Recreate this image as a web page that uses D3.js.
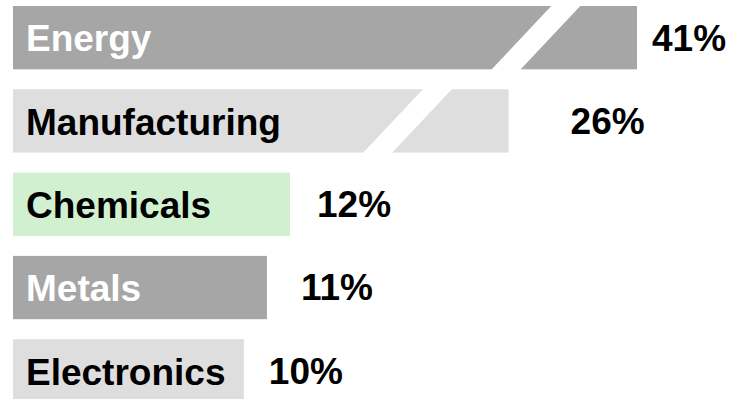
<!DOCTYPE html>
<html>
<head>
<meta charset="utf-8">
<script src="https://cdn.jsdelivr.net/npm/d3@7"></script>
<style>
  body { margin: 0; background: #fff; }
  text { font-family: "Liberation Sans", Arial, sans-serif; font-weight: bold; }
</style>
</head>
<body>
<svg width="740" height="399"></svg>
<script>
// data
var sectors = ["Energy", "Manufacturing", "Chemicals", "Metals", "Electronics"];
var shares = [41, 26, 12, 11, 10];
var broken = [true, true, false, false, false];

// styles
var barFill = ["#a6a6a6", "#dedede", "#d1f0d0", "#a6a6a6", "#dedede"];
var nameFill = ["#fff", "#000", "#000", "#fff", "#000"];
var labelPad = [15, 62, 27, 34, 25];

var svg = d3.select("svg"),
    width = +svg.attr("width"),
    height = +svg.attr("height");

// broken x axis: linear up to the break, compressed after it
var x = d3.scaleLinear().domain([0, 18.8, 41]).range([13, 447, 637]);
var y = d3.scaleBand().domain(sectors).range([6, 402.5]).paddingInner(0.24).paddingOuter(0);

var rows = sectors.map(function(s, i){
    return {name: s, val: shares[i], broken: broken[i], i: i};
});

var g = svg.selectAll(".row")
    .data(rows)
    .enter()
    .append("g")
    .attr("class", "row");

g.append("rect")
    .attr("x", x(0))
    .attr("y", d => y(d.name))
    .attr("width", d => x(d.val) - x(0))
    .attr("height", y.bandwidth())
    .attr("fill", d => barFill[d.i]);

// white slash marking the break
g.filter(d => d.broken)
    .append("polygon")
    .attr("fill", "#fff")
    .attr("points", function(d){
        var cx = x(d.val) - 101, top = y(d.name), bot = top + y.bandwidth();
        var h = y.bandwidth() / 2 * 0.97, w = 29;
        return [[cx + h - w/2, top - 1], [cx + h + w/2, top - 1],
                [cx - h + w/2, bot + 1], [cx - h - w/2, bot + 1]].join(" ");
    });

g.append("text")
    .attr("x", x(0) + 13)
    .attr("y", d => y(d.name) + y.bandwidth() / 2)
    .attr("dy", "0.37em")
    .attr("font-size", 37)
    .attr("fill", d => nameFill[d.i])
    .text(d => d.name);

g.append("text")
    .attr("x", d => x(d.val) + labelPad[d.i])
    .attr("y", d => y(d.name) + y.bandwidth() / 2)
    .attr("dy", "0.35em")
    .attr("font-size", 37)
    .attr("fill", "#000")
    .text(d => d.val + "%");
</script>
</body>
</html>
